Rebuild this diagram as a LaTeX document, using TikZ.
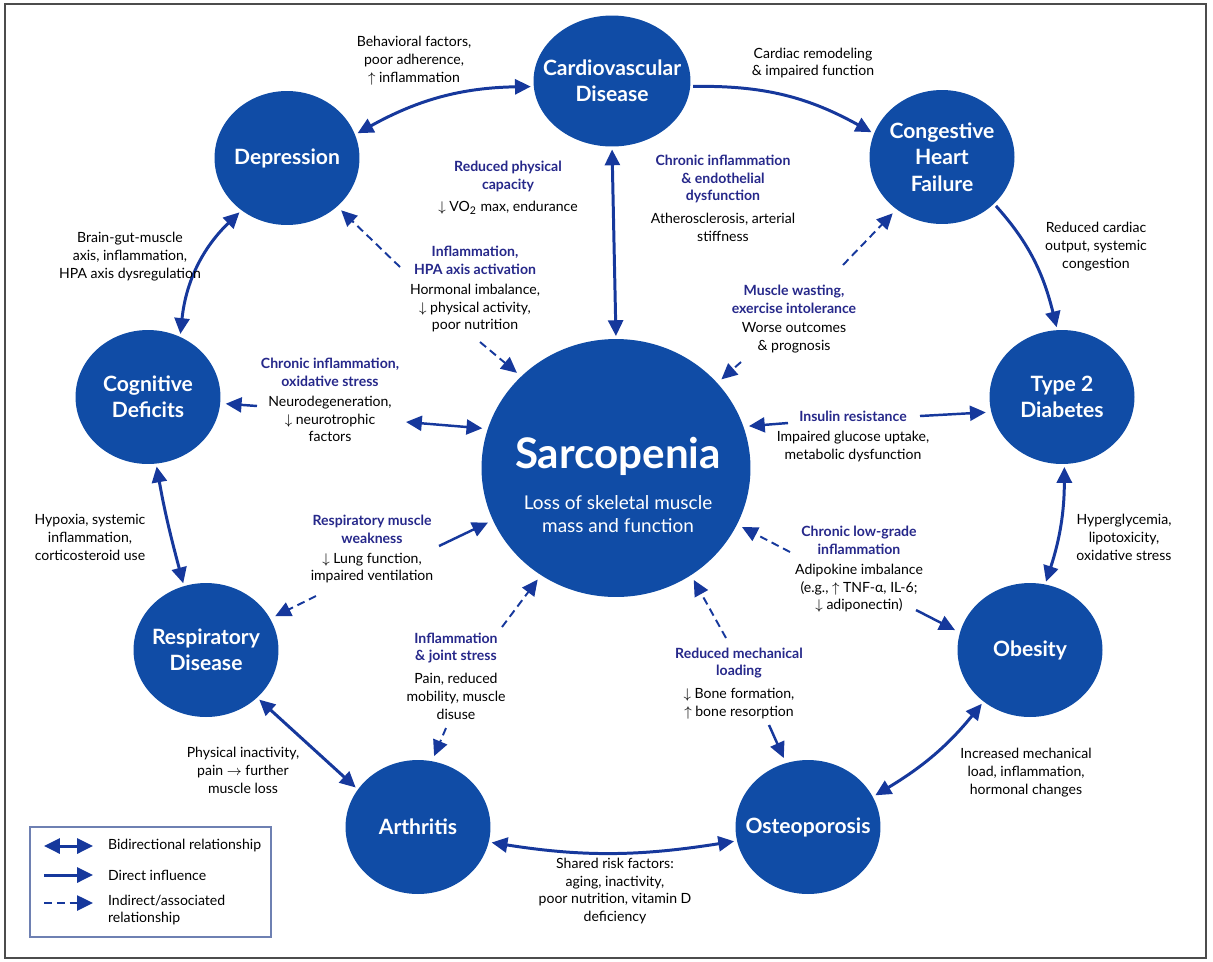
\documentclass[tikz,border=0pt]{standalone}
\usepackage{fontspec}
\setmainfont{Lato}
\usetikzlibrary{arrows.meta,positioning,shapes.geometric}

\definecolor{discblue}{RGB}{16,76,166}
\definecolor{arrblue}{RGB}{22,56,156}
\definecolor{capblue}{RGB}{38,40,138}
\definecolor{keyframe}{RGB}{110,128,178}

\begin{document}
\begin{tikzpicture}[x=0.02cm,y=0.02cm,>={Triangle[length=9pt,width=8.5pt]},
    cond/.style={ellipse,fill=discblue,text=white,align=center,
      inner xsep=-12pt,inner ysep=-6pt,minimum width=2.9cm,minimum height=2.68cm,
      font=\bfseries\fontsize{12}{15}\selectfont},
    note/.style={align=center,inner sep=1pt,font=\fontsize{8}{10.2}\selectfont},
    cause/.style={note,text=capblue,font=\bfseries\fontsize{8}{10.2}\selectfont},
    link/.style={draw=arrblue,line width=1.7pt,shorten >=1.5pt,shorten <=1.5pt},
    spoke/.style={draw=arrblue,line width=1.4pt,shorten >=3pt},
    hint/.style={spoke,line width=1.1pt,dash pattern=on 4.5pt off 2.8pt}]
  \useasboundingbox (0,0) rectangle (1213,-961);
  \draw[black!70,line width=0.6pt] (5,-4) rectangle (1206,-958);

  % conditions
  \node[cond,minimum width=3.14cm,minimum height=2.62cm] (cvd) at (612,-81) {Cardiovascular\\Disease};
  \node[cond] (chf) at (942,-157) {Congestive\\Heart\\Failure};
  \node[cond] (dep) at (287,-158) {Depression};
  \node[cond] (cog) at (148,-397) {Cognitive\\Deficits};
  \node[cond] (t2d) at (1062,-397) {Type 2\\Diabetes};
  \node[cond] (resp) at (206,-650) {Respiratory\\Disease};
  \node[cond] (obes) at (1030,-650) {Obesity};
  \node[cond] (arth) at (418,-827) {Arthritis};
  \node[cond] (osteo) at (808,-827) {Osteoporosis};
  \node[cond,minimum width=5.38cm,minimum height=5.16cm] (sarc) at (616,-468) {};
  \node[text=white,align=center,inner sep=0pt,font=\fontsize{10.8}{13.2}\selectfont] (sarcTxt) at (618,-485)
    {{\bfseries\fontsize{24}{26}\selectfont Sarcopenia}\\[10pt]Loss of skeletal muscle\\mass and function};

  % outer ring
  \draw[link,<->] (dep.19) to[out=29,in=181] (cvd.184);
  \draw[link,->] (cvd.-4) to[out=1,in=151] (chf.161);
  \draw[link,->] (chf.-42) to[out=-48,in=104] (t2d.94);
  \draw[link,<->] (t2d.-88) to[out=-90,in=72] (obes.77);
  \draw[link,<->] (obes.-132) to[out=-129,in=31] (osteo.25);
  \draw[link,<->] (osteo.191) to[out=189,in=-9] (arth.-12);
  \draw[link,<->] (arth.148) -- (resp.-43);
  \draw[link,<->] (resp.109) to[out=105,in=-80] (cog.-83);
  \draw[link,<->] (cog.62) to[out=84,in=224] (dep.-131);
  \draw[link,<->] (cvd.south) -- (sarc.north);

  % ring labels
  \node[note] (behav) at (414,-61) {Behavioral factors,\\poor adherence,\\$\uparrow$ inflammation};
  \node[note] (remod) at (813,-63) {Cardiac remodeling\\\& impaired function};
  \node[note] (brain) at (130,-257) {Brain-gut-muscle\\axis, inflammation,\\HPA axis dysregulation};
  \node[note] (rcard) at (1096,-247) {Reduced cardiac\\output, systemic\\congestion};
  \node[note] (hypox) at (90,-537) {Hypoxia, systemic\\inflammation,\\corticosteroid use};
  \node[note] (hyperg) at (1124,-537) {Hyperglycemia,\\lipotoxicity,\\oxidative stress};
  \node[note] (physi) at (243,-770) {Physical inactivity,\\pain $\to$ further\\muscle loss};
  \node[note] (incm) at (1026,-773) {Increased mechanical\\load, inflammation,\\hormonal changes};
  \node[note] (shared) at (615,-891) {Shared risk factors:\\aging, inactivity,\\poor nutrition, vitamin D\\deficiency};

  % spoke labels
  \node[cause] (cap) at (508,-176) {Reduced physical\\capacity};
  \node[note,below=3pt of cap] (capD) {$\downarrow$ VO\textsubscript{2} max, endurance};
  \node[cause] (endo) at (723,-179) {Chronic inflammation\\\& endothelial\\dysfunction};
  \node[note,below=3pt of endo] (endoD) {Atherosclerosis, arterial\\stiffness};
  \node[cause] (hpa) at (475,-260) {Inflammation,\\HPA axis activation};
  \node[note,below=3pt of hpa] (hpaD) {Hormonal imbalance,\\$\downarrow$ physical activity,\\poor nutrition};
  \node[cause] (wast) at (794,-299) {Muscle wasting,\\exercise intolerance};
  \node[note,below=3pt of wast] (wastD) {Worse outcomes\\\& prognosis};
  \node[cause] (oxid) at (330,-372) {Chronic inflammation,\\oxidative stress};
  \node[note,below=3pt of oxid] (oxidD) {Neurodegeneration,\\$\downarrow$ neurotrophic\\factors};
  \node[cause] (ins) at (853,-416) {Insulin resistance};
  \node[note,below=3pt of ins] (insD) {Impaired glucose uptake,\\metabolic dysfunction};
  \node[cause] (resw) at (372,-529) {Respiratory muscle\\weakness};
  \node[note,below=3pt of resw] (reswD) {$\downarrow$ Lung function,\\impaired ventilation};
  \node[cause] (lowg) at (859,-540) {Chronic low-grade\\inflammation};
  \node[note,below=3pt of lowg] (lowgD) {Adipokine imbalance\\(e.g., $\uparrow$ TNF-α, IL-6;\\$\downarrow$ adiponectin)};
  \node[cause] (joint) at (456,-648) {Inflammation\\\& joint stress};
  \node[note,below=3pt of joint] (jointD) {Pain, reduced\\mobility, muscle\\disuse};
  \node[cause] (mech) at (739,-663) {Reduced mechanical\\loading};
  \node[note,below=3pt of mech] (mechD) {$\downarrow$ Bone formation,\\$\uparrow$ bone resorption};

  % spokes
  \coordinate (hpaA) at (400,-267);
  \coordinate (nutA) at (480,-342);
  \coordinate (wastA) at (843,-265);
  \coordinate (progA) at (741,-362);
  \coordinate (insA) at (788,-423);
  \coordinate (insB) at (920,-416);
  \coordinate (neurA) at (257,-406);
  \coordinate (neurB) at (406,-422);
  \coordinate (weakA) at (439,-546);
  \coordinate (weakB) at (316,-596);
  \coordinate (jointA) at (502,-627);
  \coordinate (jointB) at (446,-728);
  \coordinate (mechA) at (726,-638);
  \coordinate (mechB) at (769,-725);
  \coordinate (lowA) at (790,-552);
  \coordinate (lowB) at (916,-610);
  \draw[hint,->] (hpaA) -- (dep.-44);
  \draw[hint,->] (nutA) -- (sarc.136);
  \draw[hint,->] (wastA) -- (chf.-131);
  \draw[hint,->] (progA) -- (sarc.40);
  \draw[spoke,->] (insA) -- (sarc.18);
  \draw[spoke,->] (insB) -- (t2d.192);
  \draw[spoke,->] (neurA) -- (cog.-5);
  \draw[spoke,<->] (neurB) -- (sarc.163);
  \draw[spoke,->] (weakA) -- (sarc.203);
  \draw[hint,->] (weakB) -- (resp.26);
  \draw[hint,->] (jointA) -- (sarc.235);
  \draw[hint,->] (jointB) -- (arth.78);
  \draw[hint,->] (mechA) -- (sarc.-55);
  \draw[spoke,->] (mechB) -- (osteo.109);
  \draw[hint,->] (lowA) -- (sarc.-25);
  \draw[spoke,->] (lowB) -- (obes.166);

  % legend
  \draw[keyframe,line width=0.6pt] (30,-827) rectangle (271,-937);
  \coordinate (keyA1) at (44,-846);
  \coordinate (keyB1) at (93,-846);
  \coordinate (keyA2) at (44,-875);
  \coordinate (keyB2) at (93,-875);
  \coordinate (keyA3) at (44,-903);
  \coordinate (keyB3) at (93,-903);
  \draw[link,<->,shorten <=0pt,shorten >=0pt] (keyA1) -- (keyB1);
  \draw[link,->,shorten <=0pt,shorten >=0pt] (keyA2) -- (keyB2);
  \draw[hint,->,line width=1.3pt,shorten >=0pt] (keyA3) -- (keyB3);
  \node[note,anchor=west,align=left] (keyT1) at (106,-846) {Bidirectional relationship};
  \node[note,anchor=west,align=left] (keyT2) at (106,-875) {Direct influence};
  \node[note,anchor=west,align=left] (keyT3) at (106,-910) {Indirect/associated\\relationship};
\end{tikzpicture}
\end{document}
